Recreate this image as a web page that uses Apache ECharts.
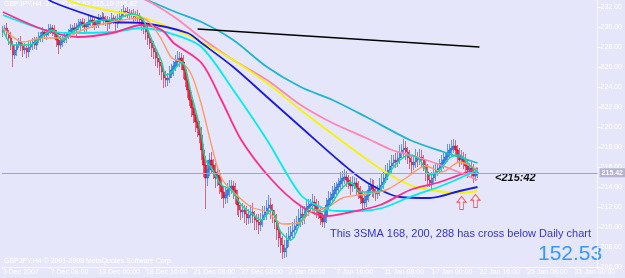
<!DOCTYPE html>
<html>
<head>
<meta charset="utf-8">
<script src="https://cdn.jsdelivr.net/npm/echarts@6/dist/echarts.min.js"></script>
<style>
  html, body { margin: 0; padding: 0; background: #e6e6fa; }
  #chart { width: 625px; height: 278px; }
</style>
</head>
<body>
<div id="chart"></div>
<script>
// price data (H4 bars)
var firstOpen = 229.5;
var closes = [
  229.7,229.9,229.4,228.9,228.2,227.2,227.7,228.2,228.5,228.1,227.7,227.9,227.5,228.0,228.3,228.5,228.2,228.7,228.9,229.1,
  229.5,229.2,229.4,229.7,229.9,229.7,229.3,228.7,228.2,228.5,228.7,229.0,229.2,229.4,229.7,229.9,229.7,230.0,230.2,230.5,
  230.3,230.0,230.2,230.5,230.7,230.5,230.2,230.3,230.7,230.9,231.0,230.8,230.5,230.3,230.6,230.9,230.7,230.4,230.7,231.1,
  231.4,231.6,231.5,231.3,231.4,231.2,231.0,231.2,231.1,230.7,230.3,229.9,229.5,228.9,228.4,227.9,227.5,226.9,226.5,226.1,
  225.5,224.9,224.7,224.9,225.3,225.7,226.1,226.5,226.7,226.9,226.5,225.7,224.7,223.7,222.7,221.9,221.2,220.5,219.9,219.2,
  217.7,216.2,214.9,215.7,216.7,216.2,215.5,214.9,215.2,214.2,213.5,212.9,213.2,213.7,213.9,214.1,213.7,213.1,212.2,211.7,
  211.5,211.7,211.3,210.9,211.2,211.5,211.1,210.7,210.5,210.2,210.7,211.2,211.5,211.9,212.2,211.7,211.2,210.5,209.7,208.9,
  208.2,207.5,207.9,208.7,209.1,209.5,209.7,210.1,210.5,210.9,211.3,210.9,211.5,211.9,212.1,212.3,212.5,212.1,211.7,211.4,
  210.9,210.5,211.2,212.2,212.7,212.9,213.3,213.7,214.0,214.3,214.6,214.9,215.0,214.7,214.3,214.1,214.3,214.4,213.9,213.5,
  212.9,212.4,212.7,213.1,213.7,214.1,213.8,213.5,213.3,213.7,214.2,214.5,214.9,215.3,215.7,216.1,216.4,216.7,216.5,216.9,
  217.4,217.7,217.9,217.5,216.9,216.5,216.2,216.5,216.9,216.7,217.0,216.7,216.2,215.5,214.7,214.4,214.9,215.3,215.7,215.9,
  216.2,216.4,216.7,217.0,217.4,217.7,217.9,218.1,217.7,217.2,216.7,216.9,216.4,216.1,215.7,215.9,215.5,215.1,215.3,215.42
];
// wick lengths above / below the body
var upWick = [
  .4,.3,.5,.3,.6,.4,.5,.3,.4,.6,.3,.5,.4,.6,.3,.4,.5,.3,.6,.4,
  .5,.3,.4,.6,.4,.3,.5,.4,.3,.6,.4,.5,.3,.4,.6,.3,.5,.4,.6,.3,
  .4,.5,.3,.6,.4,.3,.5,.4,.6,.3,.5,.4,.3,.6,.4,.5,.3,.4,.6,.5,
  .4,.6,.3,.5,.4,.3,.6,.4,.5,.3,.4,.5,.3,.6,.4,.5,.7,.4,.6,.5,
  .6,.4,.7,.5,.8,.6,.5,.7,.9,.6,.5,.7,.4,.6,.5,.8,.4,.6,.5,.7,
  .8,.6,.9,1.0,.7,.8,.6,.9,.7,.5,.8,.6,.9,.7,.8,.6,.5,.7,.6,.8,
  .6,.7,.5,.8,.6,.7,.9,.5,.6,.8,.7,.9,.6,.8,1.0,.7,.6,.5,.8,.7,
  .6,.9,.8,.7,.9,.6,.8,.7,.6,.9,.7,.8,.6,.9,.7,.5,.8,.6,.7,.9,
  .6,.5,.8,.7,.9,.6,.8,.7,.5,.6,.9,.7,.8,.6,.5,.7,.8,.6,.5,.7,
  .6,.8,.7,.5,.6,.8,.7,.9,.6,.5,.7,.8,.6,.9,.7,.6,.8,.5,.7,.6,
  .8,.6,.9,.7,.5,.8,.6,.7,.9,.6,.8,.7,.5,.6,.8,.7,.6,.9,.7,.5,
  .6,.8,.7,.5,.9,.6,.8,.7,.6,.5,.7,.8,.6,.9,.7,.5,.6,.8,.6,.5
];
var lowWick = [
  .5,.4,.6,.7,.5,1.2,.4,.6,.3,.5,.7,.4,.6,.5,.3,.6,.4,.5,.3,.4,
  .6,.4,.5,.3,.4,.6,.5,.7,.9,.4,.5,.3,.6,.4,.5,.3,.4,.6,.3,.5,
  .4,.6,.5,.3,.4,.6,.5,.3,.4,.5,.3,.6,.4,.7,.5,.3,.4,.8,.5,.3,
  .4,.3,.5,.4,.6,.3,.5,.4,.6,.5,.7,.6,.8,.7,.6,.9,.7,.8,.6,.9,
  .8,1.0,.7,.6,.5,.4,.6,.5,.4,.7,.8,.9,.7,.8,.6,.9,.8,1.0,.9,.8,
  1.0,1.2,3.1,.8,.6,.9,.7,1.0,.8,.9,.7,1.0,.6,.8,.7,.6,.9,.8,1.0,.7,
  .8,.6,.9,.7,.6,.8,.7,1.0,.8,.9,.6,.7,.5,.8,.6,.9,.8,.7,1.0,.9,
  .8,.7,.6,.9,.7,.5,.6,.8,.7,.6,.9,.7,.6,.5,.8,.6,.7,.9,.8,.6,
  .7,.5,.6,.8,.5,.6,.4,.7,.5,.6,.5,.8,.6,.7,.5,.9,.6,.5,.8,.7,
  .6,.8,.5,.7,.6,.5,.8,.6,.7,.5,.6,.4,.7,.5,.6,.5,.7,.4,.6,.5,
  .6,.5,.7,.8,.6,.7,.9,.5,.6,.7,.5,.8,.6,.9,.7,.4,.6,.5,.7,.6,
  .5,.7,.6,.4,.5,.6,.7,.5,.6,.8,.7,.5,.6,.7,.8,.5,.6,.7,.5,.4
];

// moving averages, [bar, price] key points
var maTurquoise = [[65,233.5],[70,232.9],[75,232.5],[87,231.5],[100,230.5],[116,228.7],[133,226.0],[150,224.0],[166,222.7],[183,221.0],[205,218.7],[222,217.5],[239,216.4]];
var maPink = [[65,233.3],[75,232.4],[87,230.9],[100,228.9],[116,226.7],[133,224.7],[150,222.2],[166,220.4],[183,218.9],[196,217.7],[210,216.9],[223,216.0],[239,214.7]];
var maYellow = [[30,233.2],[35,232.5],[52,231.7],[70,231.0],[87,229.7],[100,228.5],[116,226.7],[133,224.4],[150,221.7],[170,218.7],[191,215.7],[205,214.2],[215,213.7],[230,213.4],[239,213.6]];
var maBlue = [[20,233.2],[25,232.5],[46,231.0],[55,230.5],[70,230.4],[93,229.4],[100,228.4],[116,226.0],[133,223.0],[150,220.0],[170,216.5],[183,214.5],[200,213.0],[215,212.9],[230,213.6],[239,214.0]];
var maCyan = [[0,231.2],[21,229.7],[33,229.4],[55,229.5],[70,229.9],[87,229.2],[100,228.0],[116,223.7],[133,218.7],[150,213.2],[160,212.0],[168,211.6],[180,211.6],[191,211.9],[205,213.0],[222,214.2],[239,215.7]];
var maDeepPink = [[0,231.5],[21,229.7],[38,229.0],[55,229.4],[70,230.2],[80,229.7],[86,228.4],[100,226.4],[110,222.7],[120,218.7],[135,214.8],[150,212.1],[163,211.1],[175,211.5],[190,212.2],[205,213.7],[220,214.5],[239,215.9]];
var maOrange = [[0,229.9],[10,228.5],[20,228.9],[30,228.9],[40,229.7],[50,230.3],[60,230.7],[70,230.9],[75,230.2],[80,228.7],[85,226.9],[90,226.5],[95,225.2],[100,222.2],[105,218.2],[110,214.9],[116,213.5],[125,212.0],[133,211.5],[141,210.3],[150,210.5],[155,211.5],[163,211.9],[171,212.9],[183,213.3],[193,213.7],[203,214.9],[213,216.1],[221,215.5],[230,216.5],[239,215.7]];
var maGreen = [[0,229.7],[5,228.2],[10,228.2],[15,228.3],[20,229.1],[25,229.7],[30,228.7],[35,229.5],[40,230.2],[45,230.5],[50,230.7],[55,230.7],[60,231.0],[65,231.3],[70,230.9],[75,228.7],[80,226.5],[82,225.2],[85,225.5],[90,226.5],[95,223.2],[100,219.2],[102,216.7],[105,215.9],[110,214.2],[115,213.7],[120,212.2],[125,211.4],[130,210.7],[135,211.7],[140,209.5],[145,208.7],[150,210.5],[155,211.9],[160,211.5],[165,212.2],[170,213.7],[175,214.5],[180,213.5],[185,213.5],[190,213.7],[195,215.5],[200,216.7],[205,217.2],[210,216.7],[215,215.2],[220,215.7],[225,216.9],[230,217.2],[235,216.2],[239,215.5]];

var trendLine = [[98,229.8],[240,228.0]];
var arrows = [[231,212.4],[238,212.6]];
var bidPrice = 215.42;

var timeLabels = ['3 Dec 2007','7 Dec 08:00','13 Dec 00:00','18 Dec 16:00','21 Dec 08:00','27 Dec 08:00','2 Jan 00:00','7 Jan 16:00','11 Jan 08:00','17 Jan 00:00','22 Jan 16:00','25 Jan 08:00','31 Jan 00:00'];
var barSlots = 300;
var labelEvery = 24;

// build candlestick table [open, close, low, high]
var candles = [];
for (var i = 0; i < closes.length; i++) {
  var o = i === 0 ? firstOpen : closes[i - 1];
  var c = closes[i];
  candles.push([o, c, +(Math.min(o, c) - lowWick[i]).toFixed(2), +(Math.max(o, c) + upWick[i]).toFixed(2)]);
}
var slots = [];
for (var k = 0; k < barSlots; k++) slots.push(k);

function maSeries(data, color, width) {
  return {
    type: 'line', data: data, smooth: 0.3, showSymbol: false, symbol: 'none',
    lineStyle: { color: color, width: width }, z: 3, silent: true
  };
}

var chart = echarts.init(document.getElementById('chart'));
chart.setOption({
  animation: false,
  backgroundColor: '#e6e6fa',
  textStyle: { fontFamily: 'Liberation Sans, Arial, sans-serif' },
  grid: { left: 0, right: 24, top: 0, bottom: 11 },
  xAxis: {
    type: 'category',
    data: slots,
    boundaryGap: true,
    axisLine: { lineStyle: { color: '#f8f8ff' } },
    axisTick: { show: true, length: 2, interval: labelEvery - 1, lineStyle: { color: '#ffffff' } },
    axisLabel: {
      color: '#ffffff', fontSize: 7, margin: 2, interval: labelEvery - 1, align: 'left',
      formatter: function (v, idx) { return timeLabels[Math.round(idx / labelEvery)] || ''; }
    },
    splitLine: { show: false }
  },
  yAxis: {
    type: 'value',
    position: 'right',
    min: 206, max: 232.7, interval: 2,
    axisLine: { show: true, lineStyle: { color: '#f8f8ff' } },
    axisTick: { show: true, length: 3, lineStyle: { color: '#ffffff' } },
    axisLabel: {
      color: '#ffffff', fontSize: 7, margin: 3, showMaxLabel: false,
      formatter: function (v) { return v.toFixed(2); }
    },
    splitLine: { show: false }
  },
  series: [
    {
      type: 'candlestick',
      data: candles,
      barWidth: 2,
      z: 2,
      itemStyle: {
        color: '#1e90ff', color0: '#ff1010',
        borderColor: '#1a5cc8', borderColor0: '#c0103c', borderWidth: 0.6
      },
      markLine: {
        symbol: 'none', silent: true,
        data: [{ yAxis: bidPrice }],
        lineStyle: { color: '#a0a4bc', type: 'solid', width: 1 },
        label: {
          position: 'end', formatter: bidPrice.toFixed(2), color: '#ffffff',
          backgroundColor: '#b4b4d0', fontSize: 7, fontWeight: 'bold', padding: [1, 2], distance: 2
        }
      }
    },
    maSeries(maTurquoise, '#1fb5d0', 1.8),
    maSeries(maPink, '#ff86b4', 1.8),
    maSeries(maYellow, '#f5f500', 1.8),
    maSeries(maBlue, '#1a1ae0', 1.8),
    maSeries(maCyan, '#00ecf0', 1.8),
    maSeries(maDeepPink, '#ff2a8a', 1.8),
    maSeries(maOrange, '#ff9966', 1.4),
    maSeries(maGreen, '#10dca0', 1.4),
    {
      type: 'line', data: trendLine, showSymbol: false, symbol: 'none', z: 4, silent: true,
      lineStyle: { color: '#000000', width: 1.5 }
    },
    {
      type: 'scatter', data: arrows, z: 5, silent: true,
      symbol: 'path://M5,0 L10,6 L7,6 L7,14 L3,14 L3,6 L0,6 Z',
      symbolSize: [9, 13],
      itemStyle: { color: 'rgba(255,255,255,0.35)', borderColor: '#ff3030', borderWidth: 1 }
    }
  ],
  graphic: [
    { type: 'text', left: 4, top: 1, silent: true,
      style: { text: 'GBPJPY,H4  215.30 215.62 215.10 215.42', fill: '#ffffff', fontSize: 7, fontFamily: 'Liberation Sans' } },
    { type: 'text', left: 4, top: 258, silent: true,
      style: { text: 'GBPJPY,H4 \u00a9 2001-2008 MetaQuotes Software Corp.', fill: '#ffffff', fontSize: 7, fontFamily: 'Liberation Sans' } },
    { type: 'text', left: 495, top: 172, silent: true,
      style: { text: '<215:42', fill: '#111111', fontSize: 11, fontWeight: 'bold', fontStyle: 'italic', fontFamily: 'Liberation Sans' } },
    { type: 'text', left: 330, top: 228, silent: true,
      style: { text: 'This 3SMA 168, 200, 288 has cross below Daily chart', fill: '#3434d4', fontSize: 11, fontFamily: 'Liberation Sans' } },
    { type: 'text', left: 538, top: 244, silent: true,
      style: { text: '152.53', fill: '#3399ff', fontSize: 21, fontFamily: 'Liberation Sans' } }
  ]
});
</script>
</body>
</html>
